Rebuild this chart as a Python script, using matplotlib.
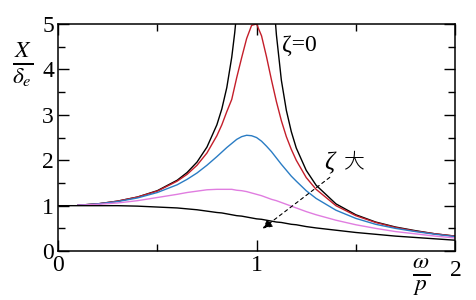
import numpy as np
import matplotlib
matplotlib.use('Agg')
import matplotlib.pyplot as plt
from matplotlib.ticker import MultipleLocator

# 振動数比 ω/p
r = [0.0, 0.1, 0.2, 0.3, 0.4, 0.5, 0.6, 0.65, 0.7, 0.75, 0.8, 0.825, 0.85, 0.875, 0.9, 0.925,
     0.95, 0.975, 1.0, 1.025, 1.05, 1.075, 1.1, 1.125, 1.15, 1.175, 1.2, 1.25, 1.3, 1.4, 1.5,
     1.6, 1.7, 1.8, 1.9, 2.0]

# 振幅比 X/δe
amp_z01 = [1.00, 1.01, 1.04, 1.10, 1.19, 1.32, 1.54, 1.69, 1.89, 2.16, 2.54, 2.78, 3.07, 3.34, 3.82, 4.26,
           4.68, 4.97, 5.00, 4.74, 4.28, 3.77, 3.29, 2.87, 2.52, 2.24, 2.00, 1.62, 1.36, 1.00, 0.78,
           0.63, 0.52, 0.44, 0.38, 0.33]
amp_z02 = [1.00, 1.01, 1.04, 1.09, 1.17, 1.29, 1.46, 1.58, 1.72, 1.89, 2.08, 2.18, 2.28, 2.37, 2.46, 2.52,
           2.55, 2.54, 2.50, 2.42, 2.31, 2.19, 2.05, 1.91, 1.78, 1.65, 1.54, 1.33, 1.16, 0.90, 0.72,
           0.59, 0.50, 0.43, 0.37, 0.32]
amp_z04 = [1.00, 1.01, 1.03, 1.06, 1.11, 1.18, 1.25, 1.29, 1.32, 1.35, 1.36, 1.36, 1.36, 1.36, 1.34, 1.33,
           1.31, 1.28, 1.25, 1.22, 1.18, 1.14, 1.11, 1.07, 1.03, 0.99, 0.95, 0.87, 0.80, 0.68, 0.58,
           0.50, 0.43, 0.38, 0.33, 0.29]
amp_z07 = [1.00, 1.00, 1.00, 1.00, 0.99, 0.97, 0.95, 0.93, 0.91, 0.88, 0.85, 0.84, 0.82, 0.80, 0.78, 0.77,
           0.75, 0.73, 0.71, 0.70, 0.68, 0.66, 0.64, 0.63, 0.61, 0.59, 0.58, 0.54, 0.51, 0.46, 0.41,
           0.37, 0.33, 0.30, 0.27, 0.24]

# ζ=0 (共振で発散するので左右に分ける)
r0_left = [0.1, 0.2, 0.3, 0.4, 0.5, 0.6, 0.65, 0.7, 0.75, 0.8, 0.825, 0.85, 0.875, 0.89, 0.9]
amp0_left = [1.01, 1.04, 1.10, 1.19, 1.33, 1.56, 1.73, 1.96, 2.29, 2.78, 3.13, 3.60, 4.27, 4.81, 5.26]
r0_right = [1.09, 1.1, 1.125, 1.15, 1.175, 1.2, 1.25, 1.3, 1.4, 1.5, 1.6, 1.7, 1.8, 1.9, 2.0]
amp0_right = [5.32, 4.76, 3.76, 3.10, 2.63, 2.27, 1.78, 1.45, 1.04, 0.80, 0.64, 0.53, 0.45, 0.38, 0.33]

SERIF = 'Liberation Serif'
plt.rcParams['font.family'] = SERIF
plt.rcParams['mathtext.fontset'] = 'stix'

fig = plt.figure(figsize=(4.76, 3.0), dpi=100)
ax = fig.add_axes([0.122, 0.163, 0.834, 0.757])

lw = 1.0
ax.plot(r0_left, amp0_left, color='black', lw=lw)
ax.plot(r0_right, amp0_right, color='black', lw=lw)
ax.plot(r[1:], amp_z01[1:], color='#c41e2a', lw=lw)
ax.plot(r[1:], amp_z02[1:], color='#2a7cc4', lw=lw)
ax.plot(r[1:], amp_z04[1:], color='#e07de0', lw=lw)
ax.plot(r, amp_z07, color='black', lw=lw)

ax.set_xlim(0, 2)
ax.set_ylim(0, 5)

ax.xaxis.set_minor_locator(MultipleLocator(0.5))
ax.yaxis.set_minor_locator(MultipleLocator(0.5))
ax.tick_params(which='both', direction='in', top=True, right=True, width=1.0, pad=3)
ax.tick_params(which='major', length=8)
ax.tick_params(which='minor', length=5)
ax.set_xticks([0, 1, 2])
ax.set_xticklabels(['0', '1', ''], family=SERIF, fontsize=17)
ax.set_yticks([0, 1, 2, 3, 4, 5])
ax.set_yticklabels(['0', '1', '2', '3', '4', '5'], family=SERIF, fontsize=17)
for s in ax.spines.values():
    s.set_linewidth(1.1)

# 軸ラベル
fig.text(0.047, 0.785, r'$\frac{X}{\delta_e}$', fontsize=24, ha='center', va='center')
fig.text(0.885, 0.075, r'$\frac{\omega}{p}$', fontsize=24, ha='center', va='center')
fig.text(0.958, 0.10, '2', fontsize=17, ha='center', va='center', family=SERIF)

ax.text(1.13, 4.52, 'ζ=0', fontsize=17, ha='left', va='center', family=SERIF)
ax.text(1.34, 1.94, 'ζ', fontsize=18, ha='left', va='center', family=SERIF, style='italic')
ax.text(1.435, 1.97, '大', fontsize=15, ha='left', va='center',
        family='Noto Sans CJK JP', fontweight='light')
ax.annotate('', xy=(1.02, 0.46), xytext=(1.38, 1.66),
            arrowprops=dict(arrowstyle='-|>', color='black', lw=0.8,
                            linestyle=(0, (3, 3)), mutation_scale=14))

fig.savefig('out.png', dpi=100)
